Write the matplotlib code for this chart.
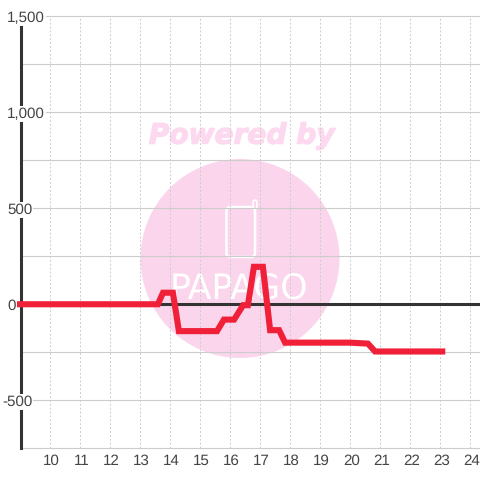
import matplotlib
matplotlib.use('Agg')
import matplotlib.pyplot as plt
from matplotlib.patches import Circle, FancyBboxPatch
from matplotlib.transforms import ScaledTranslation
import matplotlib.patheffects as pe

plt.rcParams['font.family'] = ['Liberation Sans', 'DejaVu Sans']
plt.rcParams['text.hinting'] = 'no_hinting'

hours = [8.88, 13.58, 13.75, 14.08, 14.28, 15.55, 15.78, 16.12, 16.42, 16.58,
         16.78, 17.08, 17.32, 17.62, 17.82, 19.98, 20.58, 20.82, 23.16]
values = [0, 0, 60, 60, -140, -140, -80, -80, -5, -5,
          195, 195, -135, -135, -200, -200, -205, -246, -246]
x_ticks = list(range(10, 25))
y_major = [-500, 0, 500, 1000, 1500]
y_major_labels = ['-500', '0', '500', '1,000', '1,500']
y_grid = [-750, -500, -250, 250, 500, 750, 1000, 1250, 1500]

PINK = '#fbd5ec'
GRID = '#cccccc'
DARK = '#333333'
TEXT = '#444444'

fig = plt.figure(figsize=(4.8, 4.8), dpi=100, facecolor='white')

# watermark sits behind the chart, drawn in pixel coordinates
wm = fig.add_axes([0, 0, 1, 1], zorder=0)
wm.set_xlim(0, 480)
wm.set_ylim(480, 0)
wm.axis('off')
wm.add_patch(Circle((240, 258.5), 99.5, fc=PINK, ec='none'))
wm.text(241.5, 136, 'Powered by', family='DejaVu Sans', weight='bold', style='oblique',
        fontsize=20.2, color='#fdd9f0', ha='center', va='center',
        path_effects=[pe.withStroke(linewidth=0.9, foreground='#fdd9f0')])
wm.add_patch(FancyBboxPatch((226.5, 207), 28.5, 50, boxstyle='round,pad=0,rounding_size=4',
                            fc='none', ec='white', lw=1.8))
wm.plot([254.8, 254.8], [207, 201.5], color='white', lw=4, solid_capstyle='round')
wm.plot([254.8, 254.8], [207, 201.5], color=PINK, lw=1.4, solid_capstyle='round')
wm.text(239, 290, 'PAPAGO', family='Liberation Sans Narrow', fontsize=25, color='white',
        ha='center', va='center')

ax = fig.add_axes([20.5 / 480, 31.75 / 480, 459.5 / 480, 432 / 480], zorder=1)
ax.patch.set_alpha(0)
ax.set_xlim(9, 24.3167)
ax.set_ylim(-750, 1500)

for s in ['top', 'right', 'bottom']:
    ax.spines[s].set_visible(False)
ax.spines['left'].set_linewidth(2.2)
ax.spines['left'].set_color(DARK)

ax.set_yticks(y_grid)
ax.set_yticklabels([])
ax.set_xticks(x_ticks)
ax.tick_params(axis='both', length=0)
ax.tick_params(axis='x', labelsize=10.9, labelcolor=TEXT, pad=4.2)
shift = ScaledTranslation(1 / 100, 0, fig.dpi_scale_trans)
for lab in ax.get_xticklabels():
    lab.set_transform(lab.get_transform() + shift)
ax.grid(axis='y', color=GRID, lw=0.8, clip_on=False)
ax.grid(axis='x', color=GRID, lw=0.7, linestyle=(0, (2, 2)))
ax.set_axisbelow(True)

ax.axhline(0, color=DARK, lw=2.2, zorder=2)
ax.plot(hours, values, color='#ef2038', lw=4.4, solid_joinstyle='miter',
        solid_capstyle='butt', clip_on=False, zorder=3)

# y labels hang over the axis line with a white backing
for v, lab in zip(y_major, y_major_labels):
    dx = -18.5 if v < 0 else -13.5
    ax.annotate(lab, (0, v), xycoords=ax.get_yaxis_transform(), xytext=(dx, 0),
                textcoords='offset pixels', ha='left', va='center_baseline', fontsize=10.9,
                color=TEXT, annotation_clip=False, zorder=4,
                bbox=dict(fc='white', ec='none', boxstyle='square,pad=0.08'))

fig.savefig('out.png', dpi=100)
